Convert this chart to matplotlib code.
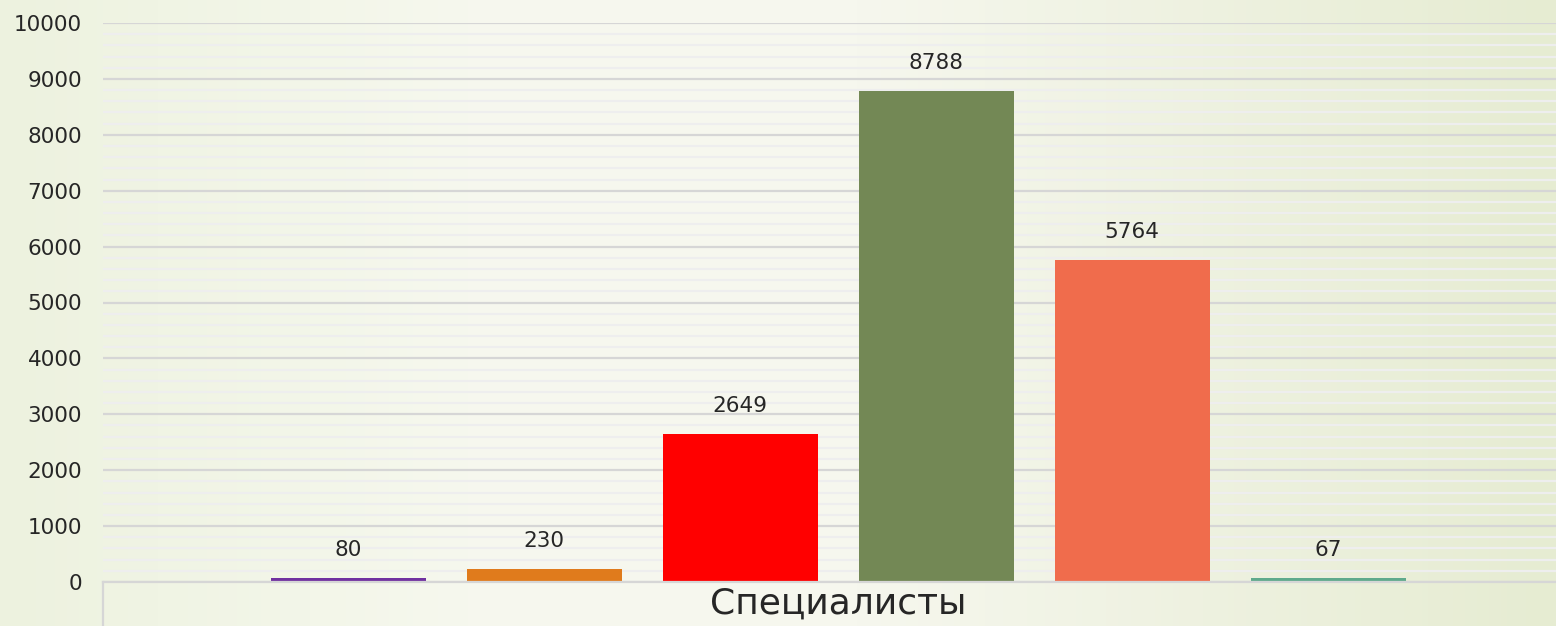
import matplotlib
matplotlib.use("Agg")
import matplotlib.pyplot as plt
import numpy as np
from matplotlib.colors import LinearSegmentedColormap

category = "Специалисты"
series_values = [80, 230, 2649, 8788, 5764, 67]
series_colors = ["#7030A0", "#E07B1C", "#FF0000", "#738855", "#F06C4C", "#5FAA8C"]
y_ticks = [0, 1000, 2000, 3000, 4000, 5000, 6000, 7000, 8000, 9000, 10000]

plt.rcParams['font.family'] = ['DejaVu Sans']

W, H = 1556, 626
fig = plt.figure(figsize=(W / 100, H / 100), dpi=100)

# background gradient
bg = fig.add_axes([0, 0, 1, 1], zorder=-10)
cmap = LinearSegmentedColormap.from_list(
    "bg", [(0.0, "#edf2df"), (0.3, "#f6f8ee"), (0.55, "#f6f7ee"), (1.0, "#e6ecd2")])
grad = np.linspace(0, 1, 512)[None, :]
bg.imshow(grad, aspect="auto", cmap=cmap, extent=[0, 1, 0, 1])
bg.set_axis_off()

left = 103 / W
bottom = (H - 582) / H
height = (582 - 23) / H
width = 1470 / W
ax = fig.add_axes([left, bottom, width, height])
ax.patch.set_alpha(0)

n = len(series_values)
x = np.arange(n)
bars = ax.bar(x, series_values, width=155 / 196, color=series_colors, zorder=3)
for xi, v in zip(x, series_values):
    ax.annotate(str(v), (xi, v), xytext=(0, 20), textcoords="offset points",
                ha="center", va="center", fontsize=15.5, color="#262626", zorder=4)

ax.set_xlim(-1.25, n + 0.25)
ax.set_ylim(0, 10000)
ax.set_yticks(y_ticks)
ax.set_yticklabels([str(t) for t in y_ticks], fontsize=15.5, color="#262626")
ax.set_yticks(np.arange(0, 10001, 200), minor=True)
ax.tick_params(axis="y", which="both", length=0, pad=15)
ax.grid(axis="y", which="minor", color="#eeeeee", linewidth=1.6, zorder=0)
ax.grid(axis="y", which="major", color="#d6d6d6", linewidth=1.6, zorder=1)
ax.set_xticks([])
for s in ["top", "right", "left"]:
    ax.spines[s].set_visible(False)
ax.spines["bottom"].set_color("#d6d6d6")
ax.spines["bottom"].set_linewidth(1.6)
ax.spines["bottom"].set_zorder(5)

# category boundary line below axis
ax.plot([0, 0], [0, -1], transform=ax.transAxes, color="#d6d6d6",
        linewidth=1.6, clip_on=False)

ax.text((n - 1) / 2, -0.038, category, transform=ax.get_xaxis_transform(),
        ha="center", va="center", fontsize=26, color="#262626")

fig.savefig("out.png", dpi=100)
